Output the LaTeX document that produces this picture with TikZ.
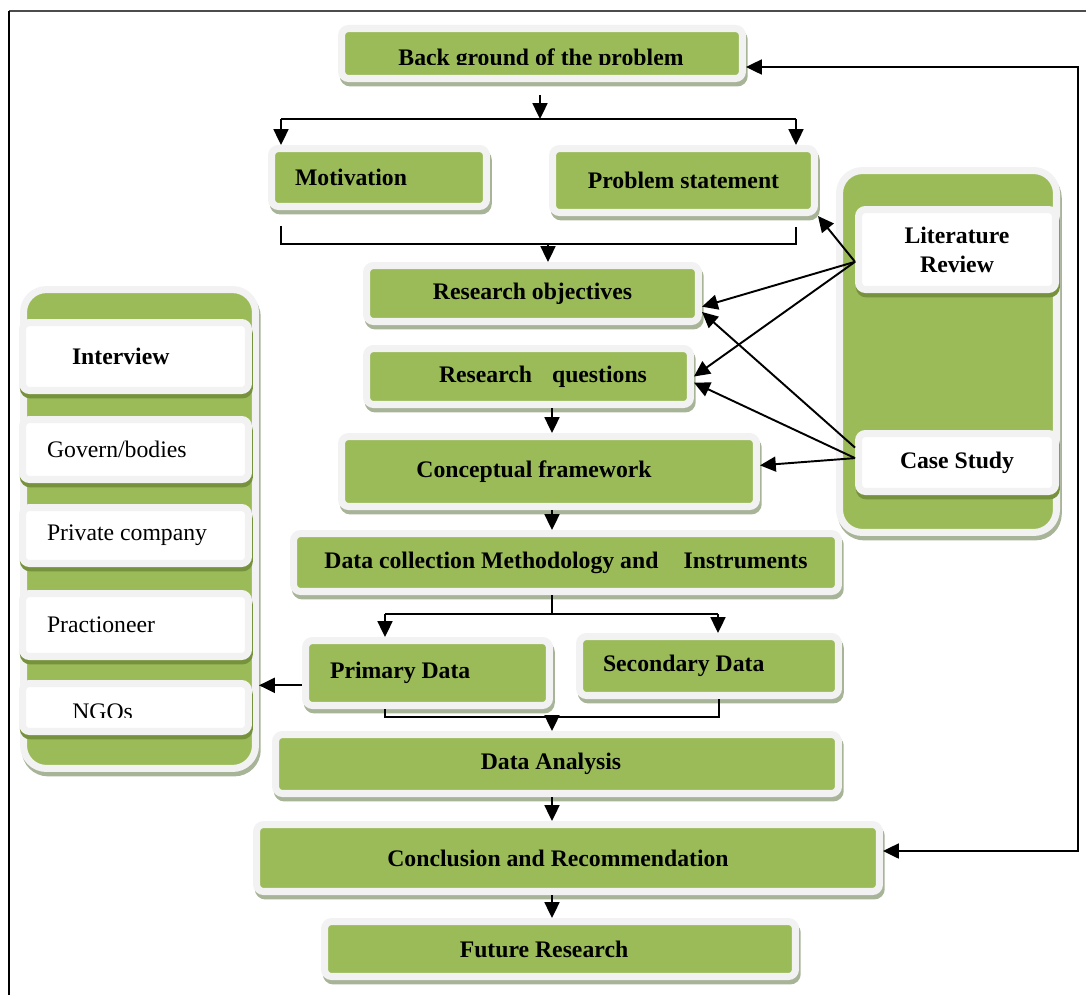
\documentclass[tikz,border=0pt]{standalone}
\usepackage{fontspec}
\setmainfont{Liberation Serif}
\usetikzlibrary{arrows.meta}
\definecolor{boxgreen}{HTML}{9BBB59}
\definecolor{boxrim}{HTML}{F2F2F2}
\definecolor{boxshade}{HTML}{A8B498}
\definecolor{leafshade}{HTML}{76923C}
\tikzset{
  boxtext/.style={font=\fontsize{13.5}{16.5}\selectfont\bfseries},
  leaftext/.style={font=\fontsize{13.5}{16.5}\selectfont},
  greenbox/.style={boxtext, fill=boxgreen, draw=boxrim, line width=4pt,
    rounded corners=4pt, inner sep=0pt,
    preaction={draw=boxshade, line width=4pt, transform canvas={xshift=1pt,yshift=-2.5pt}}},
  leafbox/.style={leaftext, fill=white, draw=boxrim, line width=4pt,
    rounded corners=4pt, inner sep=0pt,
    preaction={draw=leafshade, line width=4pt, transform canvas={xshift=0.5pt,yshift=-2.5pt}}},
  panel/.style={fill=boxgreen, draw=boxrim, line width=4pt, rounded corners=13pt,
    preaction={draw=boxshade, line width=4pt, transform canvas={xshift=1pt,yshift=-2.5pt}}},
  flow/.style={->, line width=1.1pt},
  thinline/.style={line width=0.8pt},
}
\begin{document}
\begin{tikzpicture}[x=0.02cm,y=-0.02cm,>={Triangle[length=9pt,width=8.5pt]}]
  \useasboundingbox (0,0) rectangle (1086,995);
  % page frame
  \draw[line width=0.9pt, black!70] (9,11) -- (1086,11);
  \draw[line width=1.3pt] (9,11) -- (9,995);

  % main column
  \node[greenbox, minimum width=8.02cm, minimum height=1cm] (bg) at (542,53.5) {};
  \begin{scope}
    \clip (345,33) rectangle (740,64);
    \node[boxtext, anchor=base] (bgtext) at (541,65) {Back ground of the problem};
  \end{scope}
  \node[greenbox, minimum width=4.3cm, minimum height=1.16cm, text width=3.36cm, align=flush left] (motiv) at (379,177.5) {Motivation};
  \node[greenbox, minimum width=5.24cm, minimum height=1.28cm] (prob) at (683.5,180.5) {Problem statement};
  \node[greenbox, minimum width=6.64cm, minimum height=1.12cm] (obj) at (532.5,293.5) {Research objectives};
  \node[greenbox, minimum width=6.48cm, minimum height=1.12cm] (ques) at (528.5,376.5) {\hspace*{0.58cm}Research\hspace{8pt} questions};
  \node[greenbox, minimum width=8.3cm, minimum height=1.4cm] (concept) at (549,471.5) {Conceptual framework\hspace*{0.6cm}};
  \node[greenbox, minimum width=10.9cm, minimum height=1.16cm] (collect) at (566,562.5) {Data collection Methodology and\hspace{11pt} Instruments};
  \node[greenbox, minimum width=4.88cm, minimum height=1.3cm, text width=3.9cm, align=flush left] (prim) at (427.5,673) {Primary Data};
  \node[greenbox, minimum width=5.18cm, minimum height=1.18cm, text width=4.24cm, align=flush left] (sec) at (709,666) {Secondary Data};
  \node[greenbox, minimum width=11.26cm, minimum height=1.18cm] (analysis) at (557,764) {Data Analysis\hspace*{0.24cm}};
  \node[greenbox, minimum width=12.46cm, minimum height=1.34cm] (conc) at (568,858) {Conclusion and Recommendation\hspace*{0.4cm}};
  \node[greenbox, minimum width=9.42cm, minimum height=1.1cm] (future) at (560,949) {Future Research\hspace*{0.64cm}};

  % right panel
  \node[panel, minimum width=4.34cm, minimum height=7.24cm] (panelR) at (948,351.5) {};
  \node[leafbox, boxtext, minimum width=3.94cm, minimum height=1.6cm, align=center] (lit) at (957,249.5) {Literature\\Review};
  \node[leafbox, boxtext, minimum width=3.94cm, minimum height=1.16cm] (case) at (957,462.5) {Case Study};

  % left panel
  \node[panel, minimum width=4.64cm, minimum height=9.58cm] (panelL) at (139.5,529) {};
  \node[leafbox, boxtext, minimum width=4.52cm, minimum height=1.36cm, text width=2.54cm, align=flush left] (interview) at (135.5,356.5) {Interview};
  \node[leafbox, minimum width=4.52cm, minimum height=1.2cm, text width=3.54cm, align=flush left] (govern) at (135.5,449.5) {Govern/bodies};
  \node[leafbox, minimum width=4.52cm, minimum height=1.12cm, text width=3.54cm, align=flush left] (private) at (135.5,535.5) {Private company};
  \node[leafbox, minimum width=4.52cm, minimum height=1.26cm, text width=3.54cm, align=flush left] (practice) at (135.5,625) {Practioneer};
  \node[leafbox, minimum width=4.52cm, minimum height=0.96cm] (ngos) at (135.5,707.5) {};
  \begin{scope}
    \clip (26,687) rectangle (245,717);
    \node[leaftext, anchor=base west, inner sep=0pt] (ngostext) at (72,719) {NGOs};
  \end{scope}

  % junction points
  \coordinate (axis) at (552,0);
  \coordinate (fork1) at (540,119);
  \coordinate (fork1L) at (281,119);
  \coordinate (fork1R) at (796,119);
  \coordinate (join1L) at (281,244);
  \coordinate (join1R) at (796,244);
  \coordinate (join1) at (548,244);
  \coordinate (fork2) at (552,614);
  \coordinate (fork2L) at (385,614);
  \coordinate (fork2R) at (718,614);
  \coordinate (join2L) at (385,717);
  \coordinate (join2R) at (719,717);
  \coordinate (join2) at (552,717);
  \coordinate (fbtop) at (1078,67);
  \coordinate (fbbot) at (1078,851);

  % connectors
  \draw[flow, shorten <=7.5pt] (bg.south -| fork1) -- (fork1);
  \draw[thinline] (fork1L) -- (fork1R);
  \draw[flow] (fork1L) -- (fork1L |- motiv.north);
  \draw[flow] (fork1R) -- (fork1R |- prob.north);
  \draw[thinline, shorten <=9pt, shorten >=6pt] (motiv.south -| join1L) -- (join1L) -- (join1R) -- (prob.south -| join1R);
  \draw[flow] (join1) -- (join1 |- obj.north);
  \draw[flow] (ques.south -| axis) -- (concept.north -| axis);
  \draw[flow] (concept.south -| axis) -- (collect.north -| axis);
  \draw[thinline] (collect.south -| axis) -- (fork2);
  \draw[thinline] (fork2L) -- (fork2R);
  \draw[flow] (fork2L) -- (fork2L |- prim.north);
  \draw[flow] (fork2R) -- (fork2R |- sec.north);
  \draw[thinline] (prim.south -| join2L) -- (join2L) -- (join2R) -- (sec.south -| join2R);
  \draw[flow] (join2) -- (join2 |- analysis.north);
  \draw[flow] (analysis.south -| axis) -- (conc.north -| axis);
  \draw[flow] (conc.south -| axis) -- (future.north -| axis);
  \draw[flow] ([yshift=-7pt]prim.west) -- ([yshift=-7pt]prim.west -| panelL.east);
  \draw[flow, <->] (bg.east |- fbtop) -- (fbtop) -- (fbbot) -- (conc.east |- fbbot);

  % sources feeding the study
  \draw[flow] ([yshift=-7pt]lit.west) -- (prob.south east);
  \draw[flow] ([yshift=-7pt]lit.west) -- ([yshift=-7.5pt]obj.east);
  \draw[flow] ([yshift=-7pt]lit.west) -- (ques.east);
  \draw[flow] ([yshift=8.5pt]case.west) -- ([yshift=-10.5pt]obj.east);
  \draw[flow] ([yshift=2.5pt]case.west) -- ([yshift=-3.5pt]ques.east);
  \draw[flow] ([yshift=2.5pt]case.west) -- ([yshift=3.5pt]concept.east);
\end{tikzpicture}
\end{document}
